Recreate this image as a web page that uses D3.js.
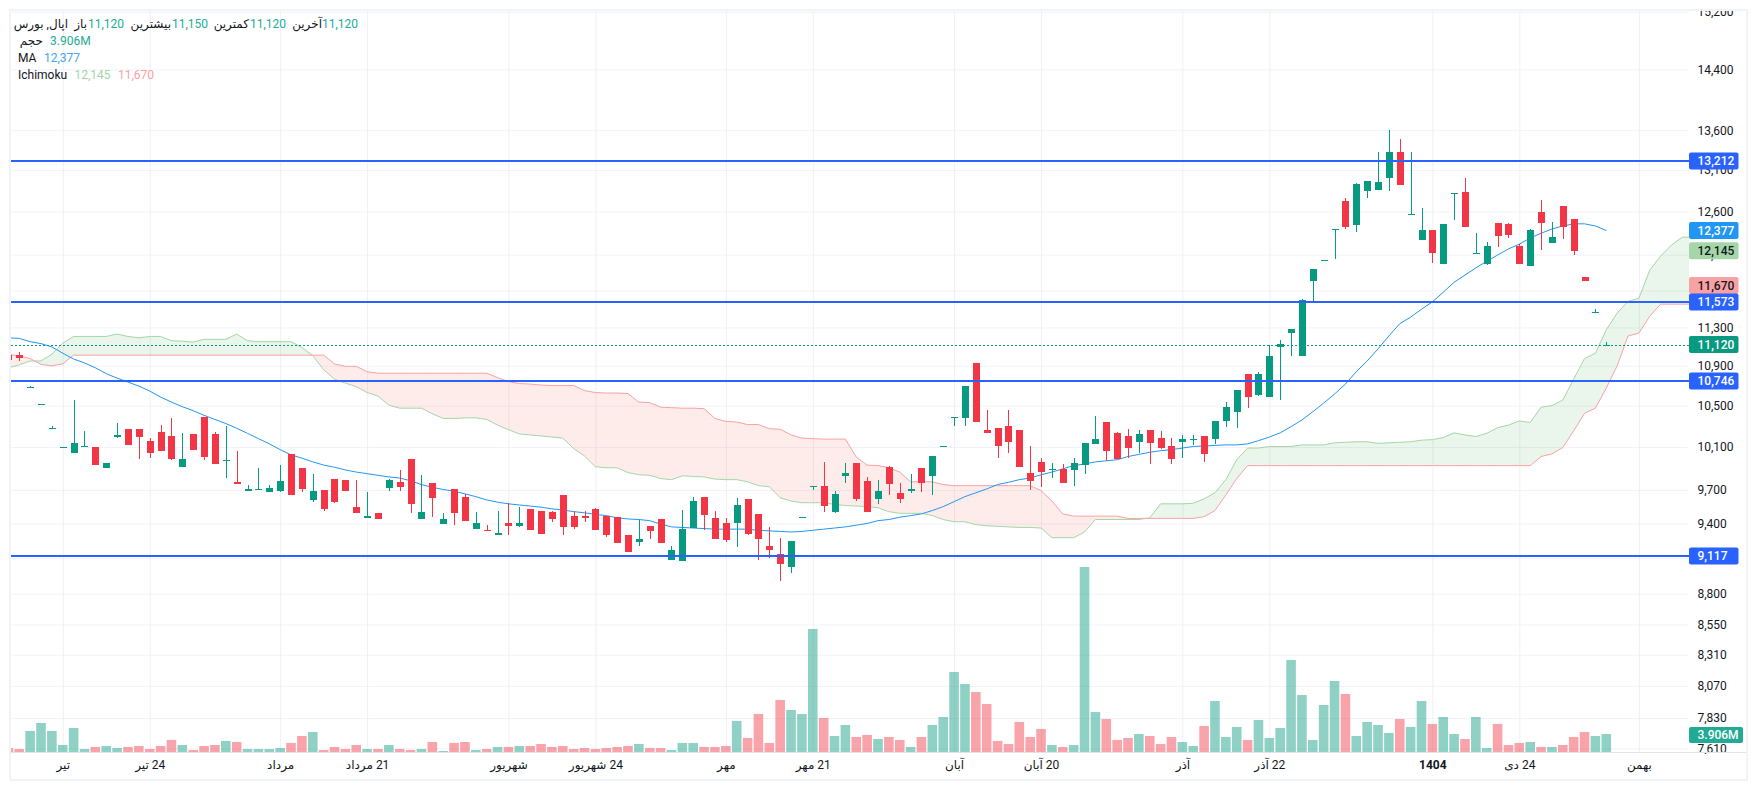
<!DOCTYPE html>
<html>

<head>
    <meta charset="utf-8">
    <style>
        body {
            margin: 0;
            background: white;
        }

        svg {
            display: block;
            font-family: Roboto, 'Noto Sans', 'DejaVu Sans', sans-serif;
        }

        .grid line {
            stroke: #f0f3fa;
        }

        .grid.vertical line {
            stroke: #eff0f3;
        }

        .grid path {
            display: none;
        }

        .price-axis path,
        .time-axis path {
            display: none;
        }

        .price-axis text,
        .time-axis text {
            font-family: Roboto, 'Noto Sans', 'DejaVu Sans', sans-serif;
            font-size: 12px;
            fill: #131722;
        }

        .time-axis text {
            direction: rtl;
        }
    </style>
</head>

<body>
    <svg width="1757" height="790"></svg>

    <script src="https://d3js.org/d3.v7.min.js"></script>

    <script>
        // candle values, one per session
        let opens = [
            11010, 11010, 10680, 10510, 10275, 10095, 10045, 10105, 10100, 9905,
            10195, 10275, 10275, 10160, 10245, 10205, 9915, 10225, 10390, 10225,
            9975, 9775, 9695, 9700, 9685, 9695, 10035, 9905, 9610, 9700,
            9805, 9795, 9550, 9450, 9495, 9720, 9775, 9990, 9440, 9765,
            9395, 9710, 9640, 9355, 9345, 9300, 9405, 9380, 9530, 9515,
            9505, 9655, 9470, 9470, 9530, 9470, 9460, 9300, 9240, 9380,
            9440, 9085, 9075, 9360, 9640, 9450, 9405, 9400, 9620, 9485,
            9205, 9135, 9025, 9455, 9735, 9740, 9505, 9825, 9950, 9785,
            9620, 9915, 9675, 9695, 9905, 9830, 10105, 10385, 10380, 10930,
            10265, 10285, 10305, 10265, 9860, 9960, 9885, 9895, 9885, 9930,
            10130, 10340, 10235, 10205, 10150, 10265, 10185, 10110, 10150, 10170,
            10205, 10180, 10350, 10440, 10820, 10605, 10585, 11095, 11240, 11000,
            11805, 12025, 12385, 12725, 12440, 12845, 12855, 13000, 13320, 12555,
            12265, 12380, 11990, 12805, 12830, 12105, 11990, 12465, 12450, 12200,
            11970, 12595, 12235, 12665, 12510, 11850, 11450, 11120
        ]
        let highs = [
            11010, 11045, 10695, 10515, 10300, 10100, 10555, 10255, 10100, 9950,
            10330, 10275, 10275, 10185, 10310, 10380, 10235, 10225, 10390, 10245,
            10305, 10065, 9750, 9905, 9750, 9930, 10035, 9905, 9850, 9700,
            9805, 9795, 9795, 9685, 9495, 9805, 9885, 9990, 9840, 9765,
            9495, 9710, 9665, 9505, 9390, 9515, 9585, 9550, 9530, 9515,
            9515, 9655, 9515, 9515, 9540, 9470, 9460, 9300, 9435, 9380,
            9440, 9205, 9520, 9640, 9640, 9515, 9450, 9630, 9620, 9485,
            9365, 9275, 9250, 9460, 9740, 9960, 9695, 9950, 9950, 9820,
            9795, 9925, 9765, 9850, 9905, 10015, 10110, 10390, 10695, 10930,
            10460, 10285, 10460, 10265, 10110, 10000, 9950, 9940, 10000, 10140,
            10400, 10340, 10245, 10275, 10265, 10265, 10255, 10185, 10215, 10215,
            10205, 10350, 10535, 10655, 10820, 10840, 11115, 11170, 11285, 11605,
            11935, 12040, 12395, 12760, 12940, 12965, 13320, 13600, 13485, 13320,
            12640, 12380, 12450, 12820, 13000, 12345, 12245, 12465, 12465, 12220,
            12395, 12735, 12475, 12665, 12510, 11850, 11500, 11150
        ]
        let lows = [
            10955, 10950, 10680, 10510, 10275, 10095, 10045, 10105, 9930, 9905,
            10185, 10120, 9990, 9995, 10065, 9980, 9915, 10075, 9980, 9940,
            9810, 9755, 9695, 9700, 9685, 9685, 9655, 9685, 9595, 9515,
            9585, 9695, 9495, 9450, 9440, 9695, 9695, 9495, 9440, 9460,
            9395, 9390, 9425, 9355, 9330, 9300, 9300, 9370, 9345, 9310,
            9415, 9300, 9355, 9415, 9345, 9285, 9230, 9155, 9205, 9265,
            9230, 9085, 9075, 9360, 9345, 9265, 9240, 9195, 9300, 9085,
            9100, 8905, 8970, 9455, 9700, 9505, 9495, 9765, 9600, 9505,
            9575, 9655, 9585, 9675, 9685, 9655, 10105, 10300, 10300, 10340,
            10235, 9995, 10045, 9915, 9700, 9730, 9810, 9765, 9740, 9850,
            10130, 9970, 9990, 9995, 10045, 9940, 10080, 9940, 9995, 10120,
            9960, 10130, 10295, 10285, 10480, 10595, 10585, 10555, 11000, 11000,
            11575, 12025, 12050, 12395, 12360, 12760, 12855, 12845, 12915, 12555,
            12265, 12005, 11990, 12500, 12415, 12105, 11980, 12185, 12290, 11990,
            11970, 12150, 12235, 12280, 12095, 11805, 11450, 11120
        ]
        let closes = [
            10955, 10980, 10685, 10515, 10285, 10100, 10140, 10110, 9930, 9950,
            10215, 10120, 10195, 10045, 10065, 9990, 9990, 10075, 10005, 9940,
            9980, 9755, 9710, 9710, 9720, 9785, 9655, 9710, 9695, 9530,
            9595, 9695, 9495, 9470, 9440, 9795, 9730, 9575, 9505, 9630,
            9440, 9495, 9425, 9405, 9330, 9320, 9380, 9405, 9345, 9310,
            9440, 9370, 9370, 9450, 9345, 9300, 9230, 9155, 9265, 9330,
            9230, 9165, 9355, 9600, 9475, 9265, 9255, 9565, 9310, 9265,
            9165, 9050, 9250, 9460, 9740, 9555, 9665, 9860, 9620, 9505,
            9695, 9755, 9620, 9705, 9765, 10015, 10110, 10390, 10695, 10340,
            10235, 10110, 10150, 9915, 9785, 9865, 9895, 9765, 9950, 10140,
            10180, 10065, 9990, 10090, 10225, 10140, 10090, 9990, 10180, 10180,
            10035, 10350, 10490, 10655, 10585, 10820, 11000, 11125, 11285, 11595,
            11935, 12040, 12395, 12415, 12930, 12965, 12950, 13320, 12915, 12570,
            12380, 12115, 12450, 12820, 12415, 12120, 12200, 12310, 12325, 11990,
            12380, 12465, 12300, 12415, 12140, 11805, 11465, 11120
        ]
        // volume in millions
        let volumes = [
            0.92, 0.71, 4.55, 6.26, 4.55, 1.56, 5.19, 0.71, 1.14, 1.35,
            0.92, 1.14, 1.35, 0.71, 1.35, 2.63, 1.56, 0.5, 1.35, 1.56,
            2.42, 2.2, 0.71, 0.71, 0.71, 0.92, 1.99, 3.48, 4.34, 0.5,
            1.14, 0.71, 1.56, 0.71, 0.71, 1.56, 0.71, 0.5, 0.71, 2.2,
            0.28, 1.99, 2.2, 0.5, 0.71, 1.14, 1.14, 1.35, 1.35, 1.78,
            1.14, 1.35, 0.71, 0.92, 0.71, 0.92, 1.14, 1.35, 1.78, 0.92,
            0.92, 0.5, 1.99, 1.99, 1.14, 1.14, 1.35, 6.69, 3.06, 8.18,
            1.99, 11.17, 9.03, 8.18, 26.32, 7.33, 3.48, 5.83, 3.27, 3.7,
            2.84, 3.27, 2.63, 1.14, 3.27, 5.83, 7.54, 17.14, 14.58, 12.87,
            10.31, 2.42, 1.78, 6.47, 3.27, 4.98, 1.56, 1.14, 1.56, 39.55,
            8.61, 7.11, 2.63, 3.06, 3.91, 3.48, 1.78, 3.27, 2.2, 1.35,
            5.62, 10.95, 3.27, 5.41, 2.63, 6.9, 3.06, 5.19, 19.7, 12.23,
            2.63, 10.1, 15.22, 12.45, 3.48, 6.47, 5.83, 4.13, 7.11, 5.41,
            10.95, 6.05, 7.54, 3.91, 2.84, 7.54, 0.92, 6.05, 1.56, 1.99,
            2.2, 1.14, 1.14, 1.56, 3.27, 4.34, 3.48, 3.906
        ]
        let maValues = [
            11190, 11185, 11150, 11130, 11095, 11030, 10970, 10930, 10880, 10820,
            10775, 10735, 10695, 10645, 10585, 10535, 10490, 10450, 10405, 10365,
            10325, 10280, 10230, 10180, 10130, 10075, 10025, 9995, 9960, 9930,
            9910, 9885, 9865, 9850, 9835, 9820, 9810, 9785, 9750, 9725,
            9705, 9690, 9665, 9640, 9610, 9590, 9575, 9565, 9555, 9545,
            9530, 9520, 9505, 9495, 9480, 9470, 9450, 9440, 9435, 9425,
            9395, 9370, 9365, 9360, 9355, 9350, 9350, 9350, 9350, 9340,
            9335, 9330, 9325, 9330, 9340, 9350, 9360, 9370, 9385, 9400,
            9425, 9435, 9455, 9470, 9485, 9515, 9550, 9595, 9640, 9675,
            9710, 9750, 9770, 9795, 9810, 9840, 9865, 9895, 9925, 9940,
            9960, 9970, 9980, 10010, 10030, 10050, 10065, 10075, 10090, 10105,
            10110, 10115, 10120, 10120, 10130, 10160, 10195, 10235, 10295, 10360,
            10440, 10525, 10615, 10715, 10840, 10950, 11075, 11210, 11340, 11410,
            11495, 11575, 11680, 11790, 11870, 11950, 12025, 12095, 12165, 12220,
            12290, 12345, 12395, 12430, 12455, 12455, 12430, 12377
        ]
        // ichimoku cloud runs on past the last candle
        let spanA = [
            10880, 10910, 10950, 10950, 11020, 11135, 11205, 11205, 11205, 11205,
            11230, 11205, 11190, 11205, 11205, 11160, 11155, 11145, 11175, 11175,
            11175, 11230, 11160, 11150, 11150, 11150, 11150, 11090, 11005, 10860,
            10765, 10725, 10690, 10630, 10595, 10505, 10475, 10475, 10475, 10420,
            10375, 10375, 10380, 10380, 10365, 10310, 10265, 10225, 10215, 10205,
            10195, 10185, 10085, 10015, 9915, 9905, 9905, 9860, 9840, 9835,
            9805, 9795, 9830, 9825, 9820, 9800, 9795, 9795, 9775, 9740,
            9730, 9630, 9600, 9585, 9585, 9585, 9570, 9560, 9555, 9550,
            9540, 9505, 9490, 9490, 9490, 9470, 9435, 9415, 9415, 9390,
            9380, 9375, 9370, 9365, 9365, 9360, 9275, 9275, 9275, 9325,
            9435, 9435, 9435, 9435, 9435, 9450, 9575, 9575, 9575, 9580,
            9620, 9675, 9795, 9980, 10090, 10090, 10105, 10105, 10105, 10120,
            10120, 10120, 10140, 10145, 10150, 10150, 10135, 10140, 10145, 10150,
            10165, 10170, 10190, 10235, 10215, 10200, 10230, 10285, 10310, 10350,
            10335, 10485, 10500, 10555, 10765, 10975, 11030, 11275, 11455, 11580,
            11615, 11925, 12085, 12210, 12300, 12300
        ]
        let spanB = [
            11020, 11000, 10975, 10915, 10900, 10920, 11010, 11010, 11010, 11010,
            11010, 11010, 11010, 11010, 11010, 11010, 11010, 11010, 11010, 11010,
            11010, 11010, 11010, 11010, 11010, 11010, 11010, 11010, 11010, 11010,
            10920, 10895, 10895, 10840, 10825, 10825, 10825, 10825, 10825, 10825,
            10825, 10825, 10825, 10825, 10825, 10780, 10740, 10720, 10715, 10705,
            10700, 10700, 10700, 10650, 10630, 10625, 10625, 10620, 10535, 10530,
            10485, 10480, 10475, 10475, 10470, 10375, 10345, 10340, 10315, 10315,
            10275, 10270, 10215, 10185, 10180, 10175, 10175, 10175, 10005, 9930,
            9925, 9905, 9865, 9775, 9775, 9775, 9750, 9740, 9740, 9740,
            9740, 9740, 9740, 9740, 9740, 9695, 9600, 9485, 9465, 9465,
            9465, 9465, 9465, 9445, 9445, 9445, 9445, 9445, 9445, 9445,
            9460, 9515, 9655, 9805, 9925, 9925, 9925, 9925, 9925, 9925,
            9925, 9925, 9925, 9925, 9925, 9925, 9925, 9925, 9925, 9925,
            9925, 9925, 9925, 9925, 9925, 9925, 9925, 9925, 9925, 9925,
            9925, 10010, 10035, 10095, 10255, 10425, 10475, 10675, 10900, 11210,
            11240, 11420, 11550, 11550, 11550, 11550
        ]

        let priceTicks = [15200, 14400, 13600, 13100, 12600, 12100, 11700, 11300, 10900, 10500, 10100, 9700, 9400, 9100, 8800, 8550, 8310, 8070, 7830, 7610]
        let hLevels = [13212, 11573, 10746, 9117]
        let lastPrice = 11120

        // session index of each date tick and its label
        let dateTicks = [5, 13, 25, 33, 46, 54, 66, 74, 87, 95, 108, 116, 131, 139, 150]
        let dateLabels = ["تیر", "24 تیر", "مرداد", "21 مرداد", "شهریور", "24 شهریور", "مهر", "21 مهر", "آبان", "20 آبان", "آذر", "22 آذر", "1404", "24 دی", "بهمن"]

        let green = "#089981"
        let red = "#f23645"
        let blue = "#2962ff"
        let maBlue = "#2196f3"
        let cloudGreen = "#a5d6a7"
        let cloudRed = "#faa1a4"

        let plot = { left: 11, right: 1689, top: 11, bottom: 752 }

        let svg = d3.select("svg")

        let x = d3.scaleLinear().domain([0, 155]).range([8.4, 1693.25])
        let y = d3.scaleLog().domain([7610, 13600]).range([748.4, 130.2])
        let yVol = d3.scaleLinear().domain([0, 39.55]).range([752.3, 567])

        // frame
        svg.append("rect")
            .attr("x", 10).attr("y", 10)
            .attr("width", 1737).attr("height", 770)
            .attr("fill", "white")
            .attr("stroke", "#f0f3fa")
            .attr("stroke-width", 2)

        let defs = svg.append("defs")
        defs.append("clipPath").attr("id", "plot-clip").append("rect")
            .attr("x", plot.left).attr("y", plot.top)
            .attr("width", plot.right - plot.left).attr("height", plot.bottom - plot.top)
        defs.append("clipPath").attr("id", "axis-clip").append("rect")
            .attr("x", plot.right).attr("y", plot.top)
            .attr("width", 56).attr("height", plot.bottom - plot.top + 2)

        // grid
        svg.append("g")
            .attr("class", "grid")
            .attr("transform", `translate(${plot.left},0)`)
            .call(d3.axisRight(y).tickValues(priceTicks).tickSize(plot.right - plot.left).tickFormat(""))

        svg.append("g")
            .attr("class", "grid vertical")
            .attr("transform", `translate(0,${plot.top})`)
            .call(d3.axisBottom(x).tickValues(dateTicks).tickSize(plot.bottom - plot.top).tickFormat(""))

        let chart = svg.append("g").attr("clip-path", "url(#plot-clip)")

        // ichimoku cloud, split where the spans cross
        let idx = d3.range(spanA.length)
        let betweenSpans = d3.area().x(i => x(i)).y0(i => y(spanA[i])).y1(i => y(spanB[i]))
        let aboveB = d3.area().x(i => x(i)).y0(0).y1(i => y(spanB[i]))
        let belowB = d3.area().x(i => x(i)).y0(i => y(spanB[i])).y1(790)

        defs.append("clipPath").attr("id", "above-b").append("path").attr("d", aboveB(idx))
        defs.append("clipPath").attr("id", "below-b").append("path").attr("d", belowB(idx))

        chart.append("path")
            .attr("d", betweenSpans(idx))
            .attr("fill", "rgba(67,160,71,0.11)")
            .attr("clip-path", "url(#above-b)")
        chart.append("path")
            .attr("d", betweenSpans(idx))
            .attr("fill", "rgba(244,67,54,0.1)")
            .attr("clip-path", "url(#below-b)")

        let spanLine = values => d3.line().x(i => x(i)).y(i => y(values[i]))(idx)
        chart.append("path").attr("d", spanLine(spanA)).attr("fill", "none").attr("stroke", cloudGreen).attr("stroke-width", 1)
        chart.append("path").attr("d", spanLine(spanB)).attr("fill", "none").attr("stroke", cloudRed).attr("stroke-width", 1)

        // volume bars
        let sessions = d3.range(opens.length)
        let isUp = i => closes[i] >= opens[i]

        chart.append("g")
            .selectAll("rect")
            .data(sessions)
            .join("rect")
            .attr("x", i => x(i) - 4.8)
            .attr("width", 9.6)
            .attr("y", i => yVol(volumes[i]))
            .attr("height", i => yVol(0) - yVol(volumes[i]))
            .attr("fill", i => isUp(i) ? "rgba(8,153,129,0.45)" : "rgba(242,54,69,0.45)")

        // moving average
        chart.append("path")
            .attr("d", d3.line().x((d, i) => x(i)).y(d => y(d))(maValues))
            .attr("fill", "none")
            .attr("stroke", maBlue)
            .attr("stroke-width", 1)

        // candles
        let candles = chart.append("g")
            .attr("shape-rendering", "crispEdges")
            .selectAll("g")
            .data(sessions)
            .join("g")
            .attr("fill", i => isUp(i) ? green : red)

        candles.append("rect")
            .attr("x", i => Math.round(x(i)) - 0.5)
            .attr("width", 1)
            .attr("y", i => Math.round(y(highs[i])))
            .attr("height", i => Math.round(y(lows[i])) - Math.round(y(highs[i])))

        candles.append("rect")
            .attr("x", i => Math.round(x(i)) - 3.5)
            .attr("width", 7)
            .attr("y", i => Math.round(y(Math.max(opens[i], closes[i]))))
            .attr("height", i => Math.max(1, Math.round(y(Math.min(opens[i], closes[i]))) - Math.round(y(Math.max(opens[i], closes[i])))))

        // last price dotted line
        chart.append("line")
            .attr("x1", plot.left).attr("x2", plot.right)
            .attr("y1", Math.round(y(lastPrice)) + 0.5).attr("y2", Math.round(y(lastPrice)) + 0.5)
            .attr("stroke", green)
            .attr("stroke-width", 1)
            .attr("stroke-dasharray", "2 2")

        // horizontal levels
        chart.selectAll(".level")
            .data(hLevels)
            .join("line")
            .attr("class", "level")
            .attr("x1", plot.left).attr("x2", plot.right)
            .attr("y1", d => y(d)).attr("y2", d => y(d))
            .attr("stroke", blue)
            .attr("stroke-width", 2)

        // axes
        let priceAxis = svg.append("g").attr("clip-path", "url(#axis-clip)")
            .append("g")
            .attr("class", "price-axis")
            .attr("transform", `translate(${plot.right},0)`)
            .call(d3.axisRight(y).tickValues(priceTicks).tickSize(0).tickPadding(8.5).tickFormat(d3.format(",")))

        let timeAxis = svg.append("g")
            .attr("class", "time-axis")
            .attr("transform", `translate(0,${plot.bottom})`)
            .call(d3.axisBottom(x).tickValues(dateTicks).tickSize(0).tickPadding(8)
                .tickFormat((d, i) => dateLabels[i]))

        timeAxis.selectAll("text")
            .filter(d => d === 131)
            .style("font-weight", "bold")

        svg.append("line")
            .attr("x1", plot.left).attr("x2", 1746)
            .attr("y1", 752.5).attr("y2", 752.5)
            .attr("stroke", "#e0e3eb")

        // price labels on the axis
        let labelRows = [
            { text: "13,212", value: 13212, fill: blue, color: "white" },
            { text: "12,377", value: 12377, fill: maBlue, color: "white" },
            { text: "12,145", value: 12145, fill: cloudGreen, color: "#131722" },
            { text: "11,670", value: 11670, fill: cloudRed, color: "#131722", nudge: -7.7 },
            { text: "11,573", value: 11573, fill: blue, color: "white" },
            { text: "11,120", value: 11120, fill: green, color: "white" },
            { text: "10,746", value: 10746, fill: blue, color: "white" },
            { text: "9,117", value: 9117, fill: blue, color: "white" }
        ]

        let labels = svg.append("g")
            .selectAll("g")
            .data(labelRows)
            .join("g")
            .attr("transform", d => `translate(${plot.right},${y(d.value) + (d.nudge || 0)})`)

        labels.append("rect")
            .attr("y", -8.5)
            .attr("width", 49.5)
            .attr("height", 17)
            .attr("rx", 2)
            .attr("fill", d => d.fill)

        labels.append("text")
            .attr("x", 8.5)
            .attr("dy", "0.35em")
            .attr("font-size", 12)
            .attr("font-weight", 500)
            .attr("fill", d => d.color)
            .text(d => d.text)

        // volume label
        let volLabel = svg.append("g")
            .attr("transform", `translate(${plot.right},${yVol(volumes[volumes.length - 1]) + 1})`)
        volLabel.append("rect")
            .attr("y", -8).attr("width", 54).attr("height", 16).attr("rx", 2)
            .attr("fill", "#22ab94")
        volLabel.append("text")
            .attr("x", 8.5).attr("dy", "0.35em")
            .attr("font-size", 12).attr("font-weight", 500)
            .attr("fill", "white")
            .text("3.906M")

        // legend rows
        let legendRows = [
            { y: 28, parts: [
                { x: 18, text: "اپال, بورس", color: "#131722", rtl: true, w: 50 },
                { x: 68, text: "باز", color: "#131722", rtl: true, w: 19 },
                { x: 88, text: "11,120", color: "#22ab94" },
                { x: 130, text: "بیشترین", color: "#131722", rtl: true, w: 41 },
                { x: 172, text: "11,150", color: "#22ab94" },
                { x: 214, text: "کمترین", color: "#131722", rtl: true, w: 35 },
                { x: 250, text: "11,120", color: "#22ab94" },
                { x: 292, text: "آخرین", color: "#131722", rtl: true, w: 30 },
                { x: 322, text: "11,120", color: "#22ab94" }
            ] },
            { y: 45, parts: [
                { x: 18, text: "حجم", color: "#131722", rtl: true, w: 25 },
                { x: 50, text: "3.906M", color: "#22ab94" }
            ] },
            { y: 62, parts: [
                { x: 18, text: "MA", color: "#131722" },
                { x: 44, text: "12,377", color: "#42a5f5" }
            ] },
            { y: 79, parts: [
                { x: 18, text: "Ichimoku", color: "#131722" },
                { x: 74.5, text: "12,145", color: cloudGreen },
                { x: 118, text: "11,670", color: cloudRed }
            ] }
        ]

        legendRows.forEach(row => {
            row.parts.forEach(p => {
                svg.append("text")
                    .attr("x", p.rtl ? p.x + p.w : p.x)
                    .attr("y", row.y)
                    .attr("font-size", 12)
                    .attr("fill", p.color)
                    .style("direction", p.rtl ? "rtl" : "ltr")
                    .text(p.text)
            })
        })
    </script>
</body>

</html>
